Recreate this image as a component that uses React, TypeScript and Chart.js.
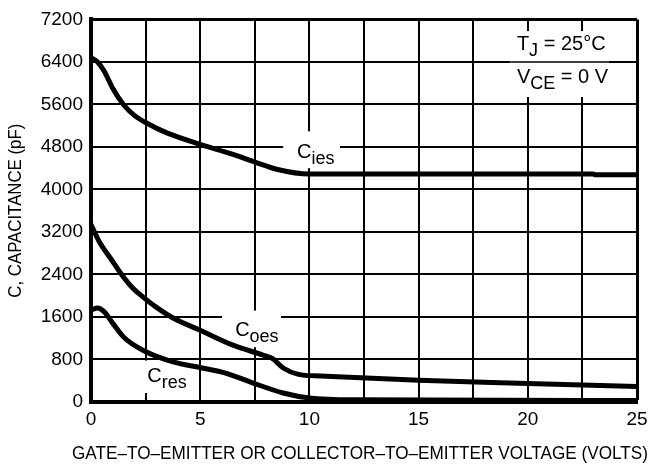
import React, { useEffect, useRef } from "react";
import { Chart, registerables } from "chart.js";

Chart.register(...registerables);

// ---- data ----
const ciesVolts = [0, 0.3, 0.6, 1.0, 1.5, 2.0, 2.5, 3.5, 5.0, 6.5, 7.6, 8.5, 10, 15, 20, 23, 23.1, 25];
const ciesPf = [6480, 6400, 6230, 5900, 5590, 5390, 5260, 5060, 4850, 4660, 4500, 4380, 4290, 4290, 4290, 4290, 4275, 4275];

const coesVolts = [0, 0.4, 0.9, 1.4, 1.9, 2.4, 3.0, 3.8, 5.0, 6.5, 7.9, 8.3, 8.8, 9.5, 10.5, 15, 20, 25];
const coesPf = [3340, 3000, 2700, 2400, 2150, 1970, 1780, 1570, 1350, 1070, 880, 820, 640, 520, 490, 410, 350, 290];

const cresVolts = [0, 0.3, 0.6, 1.0, 1.5, 2.4, 3.8, 5.0, 6.2, 7.4, 8.8, 10, 12, 25];
const cresPf = [1730, 1770, 1700, 1480, 1220, 970, 750, 650, 540, 360, 170, 75, 40, 30];

const xMin = 0;
const xMax = 25;
const xStep = 2.5;
const xLabelStep = 5;
const yMin = 0;
const yMax = 7200;
const yStep = 800;

const xTitle = "GATE–TO–EMITTER OR COLLECTOR–TO–EMITTER VOLTAGE (VOLTS)";
const yTitle = "C, CAPACITANCE (pF)";

const curveLabels = [
  { main: "C", sub: "ies", rest: "", x: 9.43, y: 4600, box: [8.8, 11.4, 5094, 4400] },
  { main: "C", sub: "oes", rest: "", x: 6.6, y: 1250, box: [6.0, 8.7, 1720, 1030] },
  { main: "C", sub: "res", rest: "", x: 2.58, y: 380, box: [2.0, 4.63, 780, 170] },
];
const condLabels = [
  { main: "T", sub: "J", rest: " = 25°C", x: 19.5, y: 6630 },
  { main: "V", sub: "CE", rest: " = 0 V", x: 19.5, y: 6000 },
];
const condBox = [19.2, 23.7, 6980, 5740];

const FONT = "'Liberation Sans Narrow', 'Arial Narrow', 'Liberation Sans', Arial, sans-serif";

function toPoints(xs: number[], ys: number[]) {
  return xs.map((x, i) => ({ x, y: ys[i] }));
}

const labelPlugin = {
  id: "labels",
  beforeDatasetsDraw(chart: any) {
    const { ctx, scales } = chart;
    const xs = scales.x;
    const ys = scales.y;
    ctx.save();
    ctx.fillStyle = "#ffffff";
    const rect = (b: number[]) => {
      const l = xs.getPixelForValue(b[0]);
      const r = xs.getPixelForValue(b[1]);
      const t = ys.getPixelForValue(b[2]);
      const btm = ys.getPixelForValue(b[3]);
      ctx.fillRect(l, t, r - l, btm - t);
    };
    curveLabels.forEach((l) => rect(l.box));
    rect(condBox);
    ctx.strokeStyle = "#000";
    ctx.lineWidth = 1.5;
    const sy = ys.getPixelForValue(6400);
    ctx.beginPath();
    ctx.moveTo(xs.getPixelForValue(condBox[0]), sy);
    ctx.lineTo(xs.getPixelForValue(condBox[1]), sy);
    ctx.stroke();

    ctx.fillStyle = "#000";
    ctx.textBaseline = "alphabetic";
    ctx.textAlign = "left";
    const drawLabel = (l: any) => {
      let x = xs.getPixelForValue(l.x);
      const y = ys.getPixelForValue(l.y);
      ctx.font = `20px ${FONT}`;
      ctx.fillText(l.main, x, y);
      x += ctx.measureText(l.main).width;
      ctx.font = `18px ${FONT}`;
      ctx.fillText(l.sub, x, y + 6);
      x += ctx.measureText(l.sub).width;
      if (l.rest) {
        ctx.font = `20px ${FONT}`;
        ctx.fillText(l.rest, x, y);
      }
    };
    curveLabels.forEach(drawLabel);
    condLabels.forEach(drawLabel);
    ctx.restore();
  },
  afterDraw(chart: any) {
    const { ctx, chartArea } = chart;
    ctx.save();
    ctx.fillStyle = "#000";
    ctx.textBaseline = "alphabetic";
    ctx.textAlign = "center";
    // x-axis title: centred under plot, stretched to reference width
    ctx.font = `19px ${FONT}`;
    const xw = ctx.measureText(xTitle).width;
    const xTarget = 576;
    ctx.save();
    ctx.translate((chartArea.left + chartArea.right) / 2 - 4, 459);
    ctx.scale(xTarget / xw, 1);
    ctx.fillText(xTitle, 0, 0);
    ctx.restore();
    // y-axis title
    ctx.font = `17.5px ${FONT}`;
    const yw = ctx.measureText(yTitle).width;
    const yTarget = 174;
    ctx.save();
    ctx.translate(21, (chartArea.top + chartArea.bottom) / 2);
    ctx.rotate(-Math.PI / 2);
    ctx.scale(yTarget / yw, 1);
    ctx.fillText(yTitle, 0, 0);
    ctx.restore();
    ctx.restore();
  },
};

export default function App() {
  const ref = useRef<HTMLCanvasElement | null>(null);
  useEffect(() => {
    document.body.style.margin = "0";
    const canvas = ref.current!;
    const ds = (xs: number[], ys: number[]) => ({
      data: toPoints(xs, ys),
      borderColor: "#000",
      borderWidth: 5,
      pointRadius: 0,
      fill: false,
      cubicInterpolationMode: "monotone" as const,
      borderCapStyle: "round" as const,
      borderJoinStyle: "round" as const,
    });
    const chart = new Chart(canvas, {
      type: "line",
      data: {
        datasets: [ds(ciesVolts, ciesPf), ds(coesVolts, coesPf), ds(cresVolts, cresPf)],
      },
      options: {
        animation: false,
        responsive: false,
        devicePixelRatio: 1,
        layout: { padding: { left: 0, right: 22, top: 17, bottom: 0 } },
        plugins: { legend: { display: false }, tooltip: { enabled: false } },
        scales: {
          x: {
            type: "linear",
            min: xMin,
            max: xMax,
            afterFit: (s: any) => {
              s.height = 62;
            },
            ticks: {
              stepSize: xStep,
              autoSkip: false,
              maxRotation: 0,
              padding: 6,
              color: "#000",
              font: { family: FONT, size: 19 },
              callback: (v: any) => (Math.abs(v % xLabelStep) < 1e-6 ? String(v) : ""),
            },
            grid: {
              color: "#000",
              lineWidth: (c: any) => (c.tick && c.tick.value === xMax ? 3 : 2),
              drawTicks: false,
            },
            border: { color: "#000", width: 4 },
          },
          y: {
            min: yMin,
            max: yMax,
            afterFit: (s: any) => {
              s.width = 91;
            },
            ticks: {
              stepSize: yStep,
              padding: 8,
              color: "#000",
              font: { family: FONT, size: 19 },
              callback: (v: any) => String(v),
            },
            grid: {
              color: "#000",
              lineWidth: (c: any) => (c.tick && c.tick.value === yMax ? 3 : 2),
              drawTicks: false,
            },
            border: { color: "#000", width: 4 },
          },
        },
      },
      plugins: [labelPlugin],
    });
    return () => chart.destroy();
  }, []);
  return <canvas ref={ref} width={659} height={464} style={{ display: "block" }} />;
}
